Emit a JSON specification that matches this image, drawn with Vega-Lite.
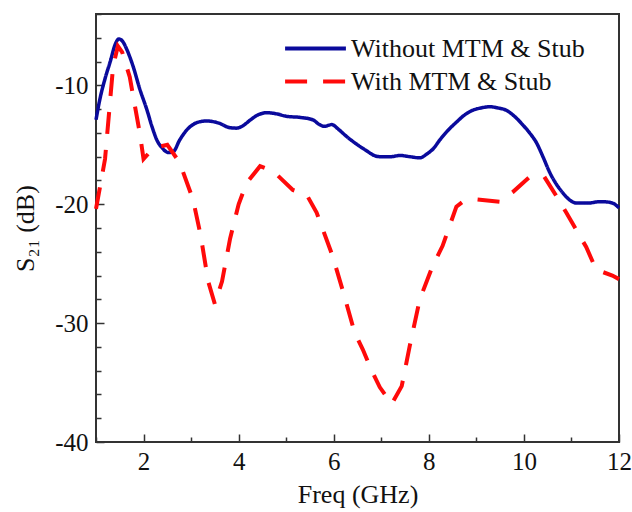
{
  "$schema": "https://vega.github.io/schema/vega-lite/v6.json",
  "width": 523,
  "height": 428,
  "autosize": {"type": "none"},
  "padding": {"left": 96, "top": 14, "right": 13, "bottom": 70},
  "background": "white",
  "config": {
    "view": {"stroke": "#333333", "strokeWidth": 2},
    "font": "Liberation Serif",
    "legend": {
      "orient": "none",
      "title": null,
      "symbolType": "stroke",
      "symbolSize": 3700,
      "symbolStrokeWidth": 4,
      "labelFont": "Liberation Serif",
      "labelFontSize": 26,
      "labelColor": "#111111",
      "labelLimit": 0,
      "labelOffset": 3,
      "padding": 0
    }
  },
  "data": {
    "values": [
      {"series": "Without MTM & Stub", "f": 1.0, "s": -12.9},
      {"series": "Without MTM & Stub", "f": 1.08, "s": -11.2},
      {"series": "Without MTM & Stub", "f": 1.2, "s": -9.3},
      {"series": "Without MTM & Stub", "f": 1.3, "s": -8.0},
      {"series": "Without MTM & Stub", "f": 1.4, "s": -6.6},
      {"series": "Without MTM & Stub", "f": 1.48, "s": -6.1},
      {"series": "Without MTM & Stub", "f": 1.56, "s": -6.3},
      {"series": "Without MTM & Stub", "f": 1.65, "s": -7.0},
      {"series": "Without MTM & Stub", "f": 1.78, "s": -8.4},
      {"series": "Without MTM & Stub", "f": 1.92, "s": -10.3},
      {"series": "Without MTM & Stub", "f": 2.07, "s": -12.05},
      {"series": "Without MTM & Stub", "f": 2.18, "s": -13.5},
      {"series": "Without MTM & Stub", "f": 2.28, "s": -14.6},
      {"series": "Without MTM & Stub", "f": 2.4, "s": -15.3},
      {"series": "Without MTM & Stub", "f": 2.52, "s": -15.65},
      {"series": "Without MTM & Stub", "f": 2.62, "s": -15.6},
      {"series": "Without MTM & Stub", "f": 2.76, "s": -14.6},
      {"series": "Without MTM & Stub", "f": 2.9, "s": -13.8},
      {"series": "Without MTM & Stub", "f": 3.04, "s": -13.3},
      {"series": "Without MTM & Stub", "f": 3.2, "s": -13.05},
      {"series": "Without MTM & Stub", "f": 3.33, "s": -13.0},
      {"series": "Without MTM & Stub", "f": 3.6, "s": -13.2},
      {"series": "Without MTM & Stub", "f": 3.8, "s": -13.55},
      {"series": "Without MTM & Stub", "f": 3.95, "s": -13.6},
      {"series": "Without MTM & Stub", "f": 4.09, "s": -13.4},
      {"series": "Without MTM & Stub", "f": 4.25, "s": -12.9},
      {"series": "Without MTM & Stub", "f": 4.4, "s": -12.5},
      {"series": "Without MTM & Stub", "f": 4.6, "s": -12.3},
      {"series": "Without MTM & Stub", "f": 4.8, "s": -12.4},
      {"series": "Without MTM & Stub", "f": 5.0, "s": -12.6},
      {"series": "Without MTM & Stub", "f": 5.3, "s": -12.7},
      {"series": "Without MTM & Stub", "f": 5.56, "s": -12.9},
      {"series": "Without MTM & Stub", "f": 5.7, "s": -13.3},
      {"series": "Without MTM & Stub", "f": 5.8, "s": -13.45},
      {"series": "Without MTM & Stub", "f": 5.96, "s": -13.3},
      {"series": "Without MTM & Stub", "f": 6.1, "s": -13.7},
      {"series": "Without MTM & Stub", "f": 6.27, "s": -14.3},
      {"series": "Without MTM & Stub", "f": 6.5, "s": -15.0},
      {"series": "Without MTM & Stub", "f": 6.69, "s": -15.5},
      {"series": "Without MTM & Stub", "f": 6.85, "s": -15.9},
      {"series": "Without MTM & Stub", "f": 6.97, "s": -16.0},
      {"series": "Without MTM & Stub", "f": 7.2, "s": -16.0},
      {"series": "Without MTM & Stub", "f": 7.39, "s": -15.9},
      {"series": "Without MTM & Stub", "f": 7.6, "s": -16.0},
      {"series": "Without MTM & Stub", "f": 7.81, "s": -16.1},
      {"series": "Without MTM & Stub", "f": 7.95, "s": -15.8},
      {"series": "Without MTM & Stub", "f": 8.1, "s": -15.3},
      {"series": "Without MTM & Stub", "f": 8.23, "s": -14.6},
      {"series": "Without MTM & Stub", "f": 8.4, "s": -13.8},
      {"series": "Without MTM & Stub", "f": 8.58, "s": -13.1},
      {"series": "Without MTM & Stub", "f": 8.75, "s": -12.5},
      {"series": "Without MTM & Stub", "f": 8.92, "s": -12.1},
      {"series": "Without MTM & Stub", "f": 9.1, "s": -11.9},
      {"series": "Without MTM & Stub", "f": 9.28, "s": -11.8},
      {"series": "Without MTM & Stub", "f": 9.45, "s": -11.9},
      {"series": "Without MTM & Stub", "f": 9.63, "s": -12.1},
      {"series": "Without MTM & Stub", "f": 9.8, "s": -12.6},
      {"series": "Without MTM & Stub", "f": 9.97, "s": -13.3},
      {"series": "Without MTM & Stub", "f": 10.12, "s": -14.0},
      {"series": "Without MTM & Stub", "f": 10.26, "s": -14.8},
      {"series": "Without MTM & Stub", "f": 10.4, "s": -16.0},
      {"series": "Without MTM & Stub", "f": 10.54, "s": -17.3},
      {"series": "Without MTM & Stub", "f": 10.68, "s": -18.3},
      {"series": "Without MTM & Stub", "f": 10.81, "s": -19.0},
      {"series": "Without MTM & Stub", "f": 10.95, "s": -19.6},
      {"series": "Without MTM & Stub", "f": 11.1, "s": -19.9},
      {"series": "Without MTM & Stub", "f": 11.38, "s": -19.9},
      {"series": "Without MTM & Stub", "f": 11.55, "s": -19.8},
      {"series": "Without MTM & Stub", "f": 11.7, "s": -19.8},
      {"series": "Without MTM & Stub", "f": 11.86, "s": -19.9},
      {"series": "Without MTM & Stub", "f": 12.0, "s": -20.3},
      {"series": "With MTM & Stub", "f": 1.0, "s": -20.4},
      {"series": "With MTM & Stub", "f": 1.19, "s": -16.2},
      {"series": "With MTM & Stub", "f": 1.36, "s": -8.4},
      {"series": "With MTM & Stub", "f": 1.46, "s": -6.7},
      {"series": "With MTM & Stub", "f": 1.55, "s": -7.2},
      {"series": "With MTM & Stub", "f": 1.71, "s": -9.3},
      {"series": "With MTM & Stub", "f": 1.92, "s": -14.0},
      {"series": "With MTM & Stub", "f": 2.0, "s": -16.2},
      {"series": "With MTM & Stub", "f": 2.2, "s": -15.3},
      {"series": "With MTM & Stub", "f": 2.5, "s": -15.0},
      {"series": "With MTM & Stub", "f": 2.76, "s": -16.5},
      {"series": "With MTM & Stub", "f": 3.04, "s": -19.6},
      {"series": "With MTM & Stub", "f": 3.2, "s": -22.6},
      {"series": "With MTM & Stub", "f": 3.36, "s": -26.5},
      {"series": "With MTM & Stub", "f": 3.5, "s": -28.4},
      {"series": "With MTM & Stub", "f": 3.65, "s": -26.5},
      {"series": "With MTM & Stub", "f": 3.82, "s": -22.9},
      {"series": "With MTM & Stub", "f": 4.0, "s": -20.0},
      {"series": "With MTM & Stub", "f": 4.17, "s": -18.2},
      {"series": "With MTM & Stub", "f": 4.45, "s": -16.8},
      {"series": "With MTM & Stub", "f": 4.72, "s": -17.2},
      {"series": "With MTM & Stub", "f": 5.14, "s": -18.8},
      {"series": "With MTM & Stub", "f": 5.43, "s": -19.2},
      {"series": "With MTM & Stub", "f": 5.64, "s": -20.7},
      {"series": "With MTM & Stub", "f": 5.98, "s": -24.4},
      {"series": "With MTM & Stub", "f": 6.2, "s": -27.4},
      {"series": "With MTM & Stub", "f": 6.44, "s": -30.8},
      {"series": "With MTM & Stub", "f": 6.61, "s": -32.2},
      {"series": "With MTM & Stub", "f": 6.8, "s": -34.0},
      {"series": "With MTM & Stub", "f": 6.97, "s": -35.4},
      {"series": "With MTM & Stub", "f": 7.22, "s": -36.8},
      {"series": "With MTM & Stub", "f": 7.43, "s": -35.3},
      {"series": "With MTM & Stub", "f": 7.6, "s": -31.9},
      {"series": "With MTM & Stub", "f": 7.81, "s": -28.0},
      {"series": "With MTM & Stub", "f": 8.08, "s": -25.2},
      {"series": "With MTM & Stub", "f": 8.29, "s": -23.5},
      {"series": "With MTM & Stub", "f": 8.58, "s": -20.2},
      {"series": "With MTM & Stub", "f": 8.71, "s": -19.8},
      {"series": "With MTM & Stub", "f": 9.0, "s": -19.6},
      {"series": "With MTM & Stub", "f": 9.49, "s": -19.8},
      {"series": "With MTM & Stub", "f": 9.76, "s": -19.0},
      {"series": "With MTM & Stub", "f": 10.12, "s": -17.7},
      {"series": "With MTM & Stub", "f": 10.43, "s": -17.7},
      {"series": "With MTM & Stub", "f": 10.68, "s": -19.3},
      {"series": "With MTM & Stub", "f": 10.89, "s": -20.7},
      {"series": "With MTM & Stub", "f": 11.31, "s": -23.6},
      {"series": "With MTM & Stub", "f": 11.52, "s": -25.5},
      {"series": "With MTM & Stub", "f": 11.86, "s": -26.0},
      {"series": "With MTM & Stub", "f": 12.0, "s": -26.3}
    ]
  },
  "encoding": {
    "x": {
      "field": "f",
      "type": "quantitative",
      "scale": {"domain": [1, 12], "nice": false, "zero": false},
      "axis": {
        "title": "Freq (GHz)",
        "values": [1, 2, 3, 4, 5, 6, 7, 8, 9, 10, 11, 12],
        "labelExpr": "datum.value % 2 === 0 ? '' + datum.value : ''",
        "labelFlush": false,
        "labelOverlap": false,
        "labelFont": "Liberation Serif",
        "labelFontSize": 25,
        "labelColor": "#111111",
        "titleFont": "Liberation Serif",
        "titleFontSize": 26,
        "titleFontWeight": "normal",
        "titleColor": "#111111",
        "domain": false,
        "grid": false,
        "tickColor": "#333333",
        "tickWidth": 1.5,
        "tickSize": {"condition": {"test": "datum.value % 2 === 0", "value": -8}, "value": -5},
        "labelPadding": 15,
        "titlePadding": 4
      }
    },
    "y": {
      "field": "s",
      "type": "quantitative",
      "scale": {"domain": [-40, -4], "nice": false, "zero": false},
      "axis": {
        "title": "S₂₁ (dB)",
        "values": [-40, -38, -36, -34, -32, -30, -28, -26, -24, -22, -20, -18, -16, -14, -12, -10, -8, -6, -4],
        "labelExpr": "datum.value % 10 === 0 ? '' + datum.value : ''",
        "labelFlush": false,
        "labelOverlap": false,
        "labelFont": "Liberation Serif",
        "labelFontSize": 25,
        "labelColor": "#111111",
        "titleFont": "Liberation Serif",
        "titleFontSize": 26,
        "titleFontWeight": "normal",
        "titleColor": "#111111",
        "titleX": -71,
        "titleY": 214,
        "titleAlign": "center",
        "titleBaseline": "middle",
        "domain": false,
        "grid": false,
        "tickColor": "#333333",
        "tickWidth": 1.5,
        "tickSize": {"condition": {"test": "datum.value % 10 === 0", "value": -8}, "value": -5},
        "labelPadding": 16
      }
    },
    "color": {
      "field": "series",
      "type": "nominal",
      "scale": {
        "domain": ["Without MTM & Stub", "With MTM & Stub"],
        "range": ["#0a0a9c", "#ff0a0a"]
      },
      "legend": {
        "values": ["Without MTM & Stub"],
        "legendX": 187,
        "legendY": 2
      }
    },
    "strokeDash": {
      "field": "series",
      "type": "nominal",
      "scale": {
        "domain": ["With MTM & Stub", "Without MTM & Stub"],
        "range": [[22, 16], [1, 0]]
      },
      "legend": {
        "values": ["With MTM & Stub"],
        "legendX": 187,
        "legendY": 35,
        "symbolStrokeColor": "#ff0a0a"
      }
    }
  },
  "layer": [
    {
      "transform": [{"filter": "datum.series === 'Without MTM & Stub'"}],
      "mark": {"type": "line", "interpolate": "monotone", "strokeWidth": 3.5}
    },
    {
      "transform": [{"filter": "datum.series === 'With MTM & Stub'"}],
      "mark": {"type": "line", "interpolate": "linear", "strokeWidth": 4}
    }
  ]
}
